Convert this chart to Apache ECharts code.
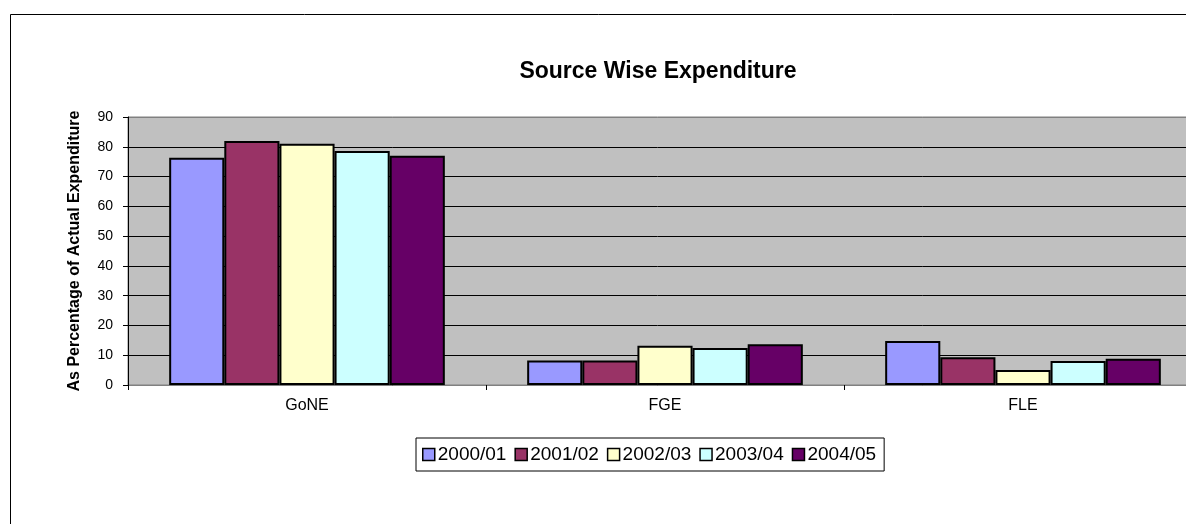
<!DOCTYPE html>
<html>
<head>
<meta charset="utf-8">
<script src="https://cdn.jsdelivr.net/npm/echarts@6/dist/echarts.min.js"></script>
<style>
    html, body { margin: 0; padding: 0; background: #fff; }
    #chart { width: 1186px; height: 524px; }
</style>
</head>
<body>
<div id="chart"></div>
<script>
    // data
    const categories = ['GoNE', 'FGE', 'FLE'];
    const years = ['2000/01', '2001/02', '2002/03', '2003/04', '2004/05'];
    const y2000 = [76.3, 8.2, 14.8];
    const y2001 = [81.9, 8.2, 9.3];
    const y2002 = [81.0, 13.2, 5.0];
    const y2003 = [78.6, 12.4, 8.1];
    const y2004 = [77.0, 13.7, 8.8];
    const colors = ['#9999FF', '#993366', '#FFFFCC', '#CCFFFF', '#660066'];

    const font = '"Liberation Sans", Arial, sans-serif';
    const allData = [y2000, y2001, y2002, y2003, y2004];

    const myChart = echarts.init(document.getElementById('chart'));
    const option = {
        animation: false,
        color: colors,
        title: {
            text: 'Source Wise Expenditure',
            left: 653,
            textAlign: 'center',
            top: 55,
            textStyle: { fontFamily: font, fontSize: 23, fontWeight: 'bold', color: '#000' }
        },
        // outer chart frame, runs off the right/bottom edge like the original
        graphic: [{
            type: 'rect',
            shape: { x: 10.5, y: 14.5, width: 1300, height: 600 },
            style: { fill: 'none', stroke: '#000', lineWidth: 1 },
            silent: true
        }],
        legend: {
            data: years,
            left: 416,
            top: 438,
            icon: 'rect',
            itemWidth: 12,
            itemHeight: 12,
            itemGap: 8,
            padding: [7, 8, 7, 6],
            borderColor: '#000',
            borderWidth: 1,
            itemStyle: { borderColor: '#000', borderWidth: 1.5 },
            textStyle: { fontFamily: font, fontSize: 19, color: '#000', padding: [0, 0, 0, -2] }
        },
        grid: {
            left: 128,
            width: 1074,
            top: 117,
            bottom: 139,
            outerBoundsMode: 'none',
            show: true,
            backgroundColor: '#C0C0C0',
            borderColor: '#808080',
            borderWidth: 1
        },
        xAxis: {
            type: 'category',
            data: categories,
            axisLine: { lineStyle: { color: '#808080', width: 1 } },
            axisTick: { show: true, length: 5, lineStyle: { color: '#000' } },
            axisLabel: { fontFamily: font, fontSize: 16, color: '#000', margin: 13 }
        },
        yAxis: {
            type: 'value',
            min: 0,
            max: 90,
            interval: 10,
            name: 'As Percentage of Actual Expenditure',
            nameLocation: 'middle',
            nameGap: 45,
            nameTextStyle: { fontFamily: font, fontSize: 16, fontWeight: 'bold', color: '#000' },
            axisLine: { show: true, lineStyle: { color: '#000', width: 1 } },
            axisTick: { show: true, length: 5, lineStyle: { color: '#000' } },
            axisLabel: { fontFamily: font, fontSize: 14, color: '#000', margin: 15 },
            splitLine: {
                lineStyle: {
                    color: ['#000', '#000', '#000', '#000', '#000', '#000', '#000', '#000', '#000', '#808080'],
                    width: 1
                }
            }
        },
        series: years.map(function (y, i) {
            return {
                name: y,
                type: 'bar',
                data: allData[i],
                barGap: '0%',
                barCategoryGap: '23%',
                itemStyle: { borderColor: '#000', borderWidth: 2 }
            };
        })
    };
    myChart.setOption(option);
</script>
</body>
</html>
